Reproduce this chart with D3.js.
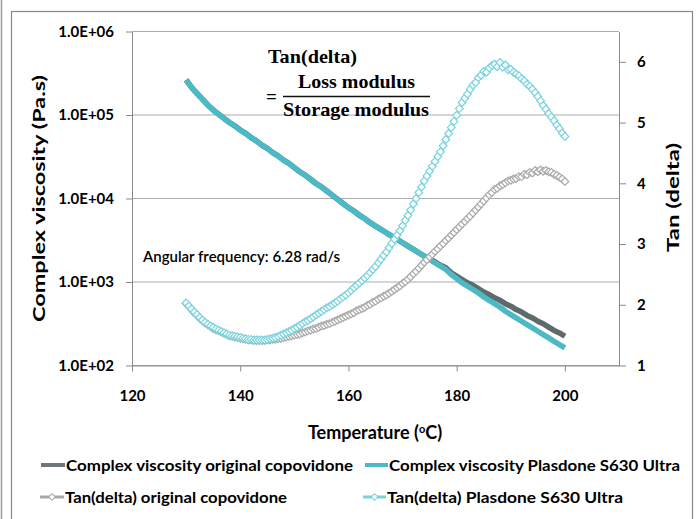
<!DOCTYPE html>
<html><head><meta charset="utf-8">
<script src="https://cdn.jsdelivr.net/npm/d3@7"></script>
<style>
body{margin:0;background:#fff}
text{font-family:Lato,"Open Sans",sans-serif;fill:#000}
</style>
</head><body>
<svg id="chart" width="700" height="519"></svg>
<script>
// ---------------- DATA ----------------
const xTicks = [120, 140, 160, 180, 200];
const yLeftTicks = [1e2, 1e3, 1e4, 1e5, 1e6];
const yLeftTickLabels = ["1.0E+02", "1.0E+03", "1.0E+04", "1.0E+05", "1.0E+06"];
const yRightTicks = [1, 2, 3, 4, 5, 6];

// complex viscosity, log10(Pa.s), 130..200 °C every 1 °C
const viscStartT = 130, viscStepT = 1;
const viscOriginalLog10 = [
 5.42,5.33,5.26,5.19,5.12,5.06,5.01,4.96,4.91,4.87,
 4.82,4.78,4.73,4.69,4.64,4.60,4.55,4.51,4.46,4.42,
 4.37,4.32,4.28,4.23,4.18,4.14,4.09,4.04,3.99,3.94,
 3.89,3.85,3.80,3.76,3.71,3.67,3.63,3.59,3.55,3.51,
 3.47,3.43,3.39,3.35,3.31,3.28,3.24,3.20,3.17,3.11,
 3.07,3.03,2.99,2.96,2.92,2.88,2.85,2.81,2.78,2.74,
 2.71,2.67,2.64,2.60,2.57,2.53,2.50,2.46,2.42,2.39,2.35];
const viscPlasdoneLog10 = [
 5.42,5.33,5.26,5.19,5.12,5.06,5.01,4.96,4.91,4.87,
 4.82,4.78,4.73,4.69,4.64,4.60,4.55,4.51,4.46,4.42,
 4.37,4.32,4.28,4.23,4.18,4.14,4.09,4.04,3.99,3.94,
 3.89,3.85,3.80,3.76,3.71,3.67,3.63,3.59,3.55,3.51,
 3.47,3.43,3.39,3.35,3.31,3.27,3.23,3.19,3.15,3.09,
 3.04,2.99,2.95,2.91,2.87,2.82,2.78,2.74,2.70,2.65,
 2.61,2.57,2.53,2.49,2.45,2.41,2.37,2.33,2.29,2.25,2.21];

// tan(delta), 130..200 °C every 0.5 °C
const tanStartT = 130, tanStepT = 0.5;
const tanOriginal = [
 2.02,1.97,1.92,1.87,1.83,1.78,1.74,1.70,1.67,1.64,
 1.61,1.59,1.57,1.55,1.53,1.51,1.49,1.48,1.47,1.46,
 1.45,1.44,1.43,1.42,1.42,1.41,1.41,1.41,1.41,1.41,
 1.42,1.42,1.43,1.43,1.44,1.45,1.46,1.47,1.48,1.49,
 1.50,1.51,1.52,1.54,1.55,1.57,1.58,1.60,1.61,1.63,
 1.65,1.66,1.68,1.69,1.71,1.73,1.75,1.77,1.79,1.81,
 1.83,1.85,1.87,1.90,1.92,1.94,1.96,1.99,2.01,2.04,
 2.06,2.09,2.11,2.14,2.16,2.19,2.22,2.25,2.28,2.31,
 2.35,2.38,2.42,2.46,2.51,2.55,2.60,2.65,2.70,2.74,
 2.79,2.83,2.88,2.92,2.97,3.01,3.06,3.10,3.15,3.19,
 3.24,3.28,3.33,3.37,3.42,3.46,3.51,3.56,3.61,3.66,
 3.71,3.76,3.81,3.85,3.90,3.92,3.96,3.98,4.01,4.04,
 4.05,4.07,4.08,4.11,4.11,4.15,4.14,4.18,4.17,4.21,
 4.19,4.22,4.20,4.21,4.19,4.18,4.15,4.13,4.10,4.07,4.03];
const tanPlasdone = [
 2.03,1.98,1.93,1.88,1.84,1.79,1.75,1.71,1.68,1.65,
 1.63,1.60,1.58,1.56,1.54,1.52,1.50,1.49,1.48,1.47,
 1.46,1.45,1.44,1.43,1.43,1.42,1.42,1.42,1.42,1.42,
 1.43,1.44,1.45,1.46,1.48,1.50,1.52,1.54,1.56,1.58,
 1.61,1.63,1.66,1.69,1.72,1.74,1.77,1.80,1.83,1.86,
 1.89,1.92,1.95,1.97,2.00,2.03,2.06,2.10,2.13,2.16,
 2.20,2.24,2.28,2.32,2.36,2.40,2.44,2.48,2.53,2.58,
 2.63,2.69,2.75,2.81,2.87,2.94,3.01,3.08,3.15,3.22,
 3.30,3.39,3.47,3.56,3.66,3.75,3.85,3.94,4.04,4.12,
 4.20,4.28,4.36,4.44,4.52,4.62,4.72,4.82,4.92,5.02,
 5.12,5.23,5.33,5.40,5.47,5.55,5.62,5.66,5.74,5.78,
 5.84,5.83,5.90,5.94,5.96,5.92,5.99,5.91,5.95,5.87,
 5.88,5.83,5.80,5.77,5.72,5.69,5.63,5.60,5.55,5.49,
 5.43,5.36,5.28,5.22,5.15,5.09,5.03,4.96,4.90,4.83,4.77];

const legendLabels = [
 "Complex viscosity original copovidone",
 "Complex viscosity Plasdone S630 Ultra",
 "Tan(delta) original copovidone",
 "Tan(delta) Plasdone S630 Ultra"];

// ---------------- STYLE ----------------
const colGrayLine = "#5f6a6d", colTealLine = "#4cbac4";
const colGrayMark = "#a9a9a9", colTealMark = "#78d3dc";
const axisCol = "#8a8a8a", gridCol = "#ababab";

const svg = d3.select("#chart");
// outer frame
svg.append("line").attr("x1",1.5).attr("x2",1.5).attr("y1",0).attr("y2",519)
  .attr("stroke","#9a9a9a").attr("stroke-width",1.5);
svg.append("rect").attr("x",11.5).attr("y",11.5).attr("width",681).attr("height",530)
  .attr("fill","none").attr("stroke","#888").attr("stroke-width",1.2);

const x = d3.scaleLinear().domain([120,210]).range([132,619]);
const yL = d3.scaleLog().domain([1e2,1e6]).range([365.5,31.5]);
const yR = d3.scaleLinear().domain([1,6.5]).range([365.5,31.5]);

// gridlines
svg.append("g").selectAll("line").data(yLeftTicks).join("line")
  .attr("x1",132).attr("x2",619).attr("y1",d=>yL(d)).attr("y2",d=>yL(d))
  .attr("stroke",gridCol).attr("stroke-width",1);

// axes
function styleAxis(g){
  g.selectAll("path").attr("stroke",axisCol);
  g.selectAll("line").attr("stroke",axisCol);
  g.selectAll("text").style("font-weight","bold").attr("fill","#000");
}
const gL = svg.append("g").attr("transform","translate(132,0)")
  .call(d3.axisLeft(yL).tickValues(yLeftTicks).tickFormat((d,i)=>yLeftTickLabels[i])
    .tickSize(6).tickSizeOuter(0).tickPadding(12));
styleAxis(gL); gL.selectAll("text").style("font-size","15px");

const gR = svg.append("g").attr("transform","translate(619,0)")
  .call(d3.axisRight(yR).tickValues(yRightTicks).tickFormat(d3.format("d"))
    .tickSize(7).tickSizeOuter(0).tickPadding(11));
styleAxis(gR); gR.selectAll("text").style("font-size","15px");

const gX = svg.append("g").attr("transform","translate(0,365.5)")
  .call(d3.axisBottom(x).tickValues(xTicks).tickFormat(d3.format("d"))
    .tickSize(6).tickSizeOuter(0).tickPadding(19));
styleAxis(gX); gX.selectAll("text").style("font-size","15px");

// axis titles
svg.append("text").attr("transform","translate(45,198.5) rotate(-90)")
  .attr("text-anchor","middle").style("font-size","17px").style("font-weight","bold")
  .attr("textLength",247).attr("lengthAdjust","spacingAndGlyphs")
  .text("Complex viscosity (Pa.s)");
svg.append("text").attr("transform","translate(679,197.5) rotate(-90)")
  .attr("text-anchor","middle").style("font-size","17px").style("font-weight","bold")
  .attr("textLength",109).attr("lengthAdjust","spacingAndGlyphs")
  .text("Tan (delta)");
const tt = svg.append("text").attr("x",375).attr("y",439).attr("text-anchor","middle")
  .style("font-size","18px").style("font-weight","bold");
tt.append("tspan").text("Temperature (");
tt.append("tspan").attr("dy",-6).style("font-size","11px").text("o");
tt.append("tspan").attr("dy",6).text("C)");

// viscosity lines
const viscLine = d3.line()
  .x((d,i)=>x(viscStartT + i*viscStepT))
  .y(d=>yL(Math.pow(10,d)));
svg.append("path").datum(viscOriginalLog10).attr("d",viscLine)
  .attr("fill","none").attr("stroke",colGrayLine).attr("stroke-width",5.5).attr("stroke-linejoin","round");
svg.append("path").datum(viscPlasdoneLog10).attr("d",viscLine)
  .attr("fill","none").attr("stroke",colTealLine).attr("stroke-width",5.5).attr("stroke-linejoin","round");

// tan delta markers
const diamond = d3.symbol().type(d3.symbolSquare).size(30);
function drawMarkers(data,col){
  svg.append("g").selectAll("path").data(data).join("path")
    .attr("d",diamond)
    .attr("transform",(d,i)=>`translate(${x(tanStartT+i*tanStepT)},${yR(d)}) rotate(45)`)
    .attr("fill","#fff").attr("stroke",col).attr("stroke-width",1.2);
}
drawMarkers(tanOriginal,colGrayMark);
drawMarkers(tanPlasdone,colTealMark);

// annotations
const serif = '"Liberation Serif","Times New Roman",serif';
svg.append("text").attr("x",268).attr("y",63).style("font-family",serif)
  .style("font-size","19px").style("font-weight","bold")
  .attr("textLength",89).attr("lengthAdjust","spacingAndGlyphs").text("Tan(delta)");
svg.append("text").attr("x",266).attr("y",103).style("font-family",serif)
  .style("font-size","19px").style("font-weight","bold").text("=");
svg.append("text").attr("x",298).attr("y",88).style("font-family",serif)
  .style("font-size","19px").style("font-weight","bold")
  .attr("textLength",117).attr("lengthAdjust","spacingAndGlyphs").text("Loss modulus");
svg.append("line").attr("x1",283).attr("x2",430).attr("y1",96.5).attr("y2",96.5)
  .attr("stroke","#111").attr("stroke-width",1.3);
svg.append("text").attr("x",283).attr("y",116).style("font-family",serif)
  .style("font-size","19px").style("font-weight","bold")
  .attr("textLength",146).attr("lengthAdjust","spacingAndGlyphs").text("Storage modulus");
svg.append("text").attr("x",143).attr("y",262).style("font-size","15px")
  .style("font-weight","600").attr("textLength",197).attr("lengthAdjust","spacingAndGlyphs")
  .text("Angular frequency: 6.28 rad/s");

// legend
const legendItems = [
  {lx1:41,lx2:65,tx:66,y:465,tl:287,col:"#6e7779",marker:false,w:4},
  {lx1:365,lx2:388,tx:389,y:465,tl:291,col:colTealLine,marker:false,w:4},
  {lx1:40,lx2:64,tx:65,y:497,tl:222,col:colGrayMark,marker:true,w:3},
  {lx1:363,lx2:386,tx:387,y:497,tl:236,col:colTealMark,marker:true,w:3}];
const lg = svg.append("g");
legendItems.forEach((it,i)=>{
  lg.append("line").attr("x1",it.lx1).attr("x2",it.lx2).attr("y1",it.y).attr("y2",it.y)
    .attr("stroke",it.col).attr("stroke-width",it.w);
  if(it.marker){
    lg.append("path").attr("d",d3.symbol().type(d3.symbolSquare).size(22))
      .attr("transform",`translate(${(it.lx1+it.lx2)/2},${it.y}) rotate(45)`)
      .attr("fill","#fff").attr("stroke",it.col).attr("stroke-width",1);
  }
  lg.append("text").attr("x",it.tx).attr("y",it.y+5.5).style("font-size","16px")
    .style("font-weight","bold").attr("textLength",it.tl).attr("lengthAdjust","spacingAndGlyphs")
    .text(legendLabels[i]);
});
</script>
</body></html>
